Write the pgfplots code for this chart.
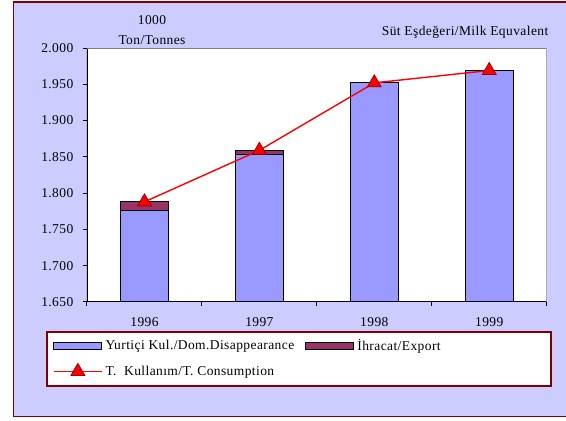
\documentclass[border=0pt]{standalone}
\usepackage{fontspec}
\setmainfont[LetterSpace=3]{Liberation Serif}
\usepackage{pgfplots}
\pgfplotsset{compat=1.18}
\definecolor{lav}{HTML}{CCCCFF}
\definecolor{barblue}{HTML}{9999FF}
\definecolor{maroonc}{HTML}{993366}
\definecolor{framec}{HTML}{800000}
\definecolor{mkedge}{HTML}{A00000}
\pgfplotsset{
  barleg/.style={legend image code/.code={\draw[##1,line width=1.2pt] (0pt,-3.5pt) rectangle (48pt,3.5pt);}},
  lineleg/.style={legend image code/.code={\draw[mark repeat=2,mark phase=2,##1] plot coordinates {(0pt,0pt) (24pt,0pt) (48pt,0pt)};}},
}
\begin{document}
\fontsize{13.5}{16}\selectfont
\begin{tikzpicture}
\useasboundingbox (0pt,0pt) rectangle (566pt,421pt);
\fill[white] (0pt,0pt) rectangle (566pt,421pt);
\filldraw[fill=lav, draw=framec, line width=1.5pt] (13.5pt,419pt) rectangle (600pt,4.5pt);
\filldraw[fill=white, draw=framec, line width=1.5pt] (47pt,89pt) rectangle (551pt,35pt);
\fill[white] (87pt,119pt) rectangle (546.7pt,373pt);
\node at (152pt,401pt) {1000};
\node at (152pt,381pt) {Ton/Tonnes};
\node[anchor=east] at (553pt,389pt) {Süt Eşdeğeri/Milk Equvalent};
\begin{axis}[
  at={(87pt,119pt)}, anchor=south west,
  scale only axis, width=459.7pt, height=254pt,
  xmin=-0.5, xmax=3.5, ymin=1.65, ymax=2.0,
  xtick={0,1,2,3}, xticklabels={1996,1997,1998,1999},
  minor xtick={-0.5,0.5,1.5,2.5,3.5},
  ytick={1.65,1.70,1.75,1.80,1.85,1.90,1.95,2.00},
  tick pos=left, tick align=outside,
  major tick length=4pt, minor tick length=4pt,
  x tick style={draw=none}, minor x tick style={draw=black, line width=1pt},
  y tick style={draw=black, line width=1pt},
  axis line style={draw=none},
  /pgf/number format/assume math mode=true,
  yticklabel style={xshift=-5pt, /pgf/number format/.cd, fixed, fixed zerofill, precision=3, use period},
  xticklabel style={yshift=-7pt},
  legend columns=2,
  legend style={draw=none, fill=none, inner sep=0pt, at={(axis description cs:-0.074,-0.138)}, anchor=north west,
    row sep=9pt, column sep=1pt, nodes={inner sep=2pt},
    /tikz/every even column/.append style={column sep=9pt}},
  legend cell align=left,
]
\addplot[ybar, bar width=48pt, bar shift=0pt, fill=maroonc, draw=black, line width=1.2pt, forget plot]
  coordinates {(0,1.788) (1,1.859) (2,1.952) (3,1.969)};
\addplot[ybar, bar width=48pt, bar shift=0pt, fill=barblue, draw=black, line width=1.2pt, barleg]
  coordinates {(0,1.776) (1,1.853) (2,1.952) (3,1.969)};
\addlegendentry{Yurtiçi Kul./Dom.Disappearance}
\addlegendimage{fill=maroonc, draw=black, barleg}
\addlegendentry{İhracat/Export}
\addplot[red, line width=1.4pt, mark=triangle*, mark size=8pt, mark options={fill=red, draw=mkedge, line width=0.8pt}, lineleg]
  coordinates {(0,1.788) (1,1.859) (2,1.952) (3,1.969)};
\addlegendentry{T.\ \ Kullanım/T. Consumption}
\draw[black, line width=1.2pt] (rel axis cs:0,1) -- (rel axis cs:0,0) -- (rel axis cs:1,0);
\draw[gray, line width=1pt] (rel axis cs:0,1) -- (rel axis cs:1,1) -- (rel axis cs:1,0);
\end{axis}
\end{tikzpicture}
\end{document}
